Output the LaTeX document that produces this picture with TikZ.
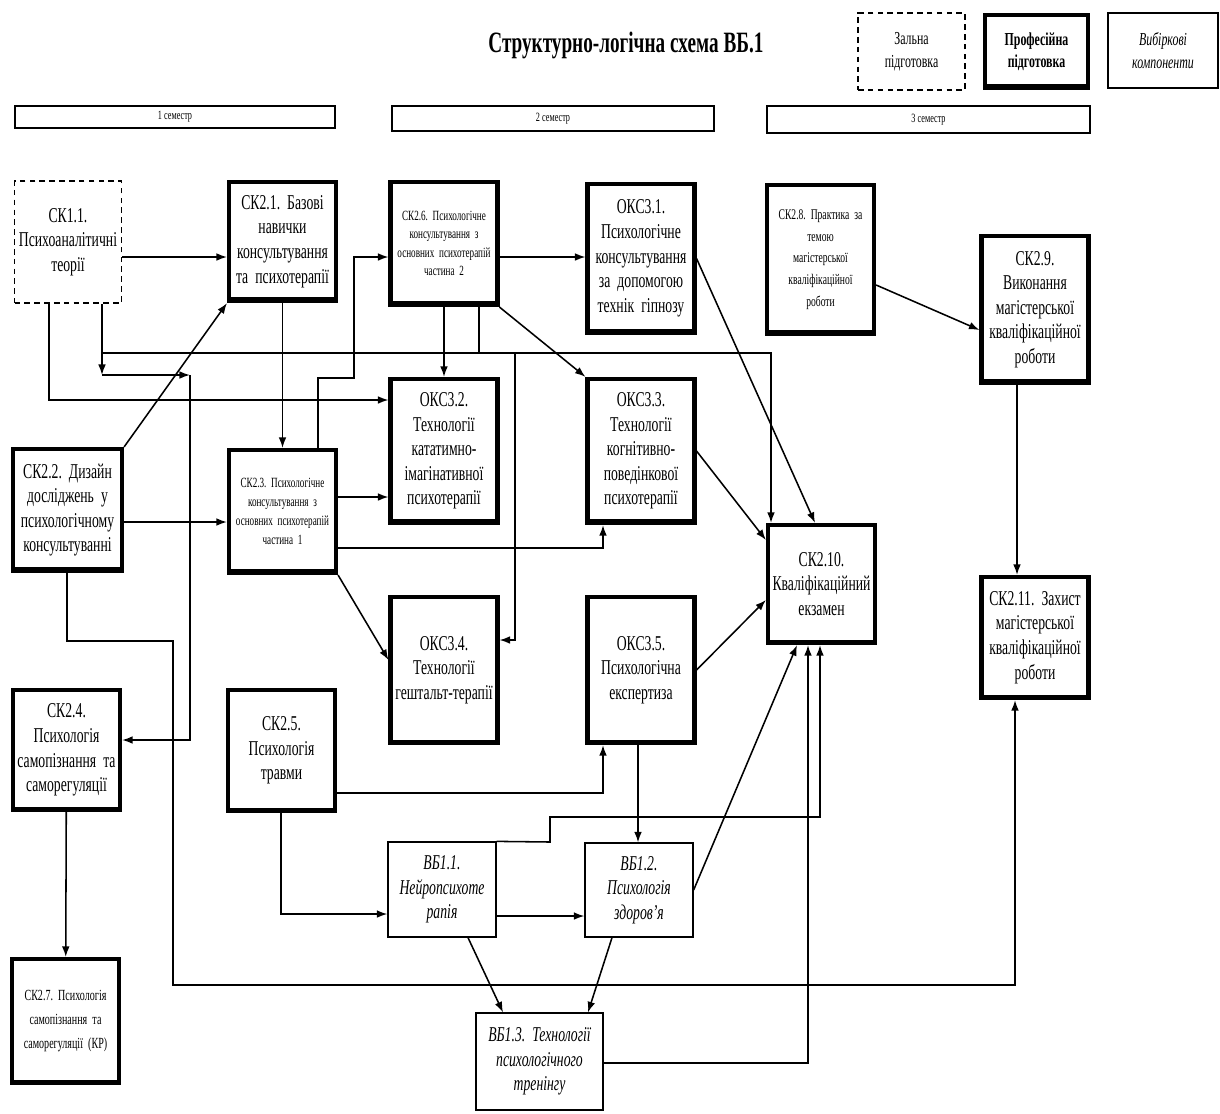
\documentclass[tikz,border=0pt]{standalone}
\usepackage{fontspec}
\setmainfont{Liberation Serif}[FakeStretch=0.65]
\usetikzlibrary{arrows.meta}
\newcommand\boxsize[2]{\fontsize{#1}{#2}\selectfont\frenchspacing\spaceskip=.17em plus .08em minus .04em\relax}

\begin{document}
\begin{tikzpicture}[x=0.025cm,y=-0.025cm,
    >={Latex[length=7.5pt,width=5.5pt]},
    box/.style={draw,align=center,inner sep=1pt,text width=2.6cm,font=\boxsize{15}{17.5}},
    smalltext/.style={font=\boxsize{10}{13}},
    prof/.style={box,line width=3pt,path picture={\fill ([yshift=-2pt]path picture bounding box.south west) rectangle ([yshift=2.5pt]path picture bounding box.south east);}},
    gen/.style={box,line width=1.3pt,dash pattern=on 4pt off 3pt},
    elect/.style={box,line width=0.9pt,font=\boxsize{15}{17.5}\itshape},
    wh/.style 2 args={minimum width=#1*0.025cm,minimum height=#2*0.025cm},
    sem/.style={draw,line width=1pt,inner sep=0pt,font=\boxsize{9}{10}},
    every path/.style={line width=1.1pt}]
    \useasboundingbox (0,0) rectangle (1220,1113);

    \node[font=\boxsize{21}{25}\bfseries] (title) at (626,45) {Структурно-логічна схема ВБ.1};
    \node[gen,wh={107}{77},text width=2.5cm,font=\boxsize{13}{16}] (lgen) at (911.5,51.5) {Зальна\\підготовка};
    \node[prof,wh={103}{73},text width=2.5cm,font=\boxsize{13}{16}\bfseries] (lprof) at (1036.5,51.5) {Професійна\\підготовка};
    \node[elect,wh={110}{75},text width=2.5cm,font=\boxsize{13}{16}\itshape] (lel) at (1163,50.5) {Вибіркові\\компоненти};

    \node[sem,wh={320}{22}] (sem1) at (175,117) {1 семестр};
    \node[sem,wh={322}{25}] (sem2) at (553,118.5) {2 семестр};
    \node[sem,wh={323}{27}] (sem3) at (928.5,119.5) {3 семестр};

    \node[gen,wh={106}{122}] (ck11) at (68,242) {СК1.1.\\Психоаналітичні\\теорії};
    \node[prof,wh={105}{119}] (ck21) at (282.5,241.5) {СК2.1. Базові\\навички\\консультування\\та психотерапії};
    \node[prof,smalltext,wh={106}{123}] (ck26) at (444,243.5) {СК2.6. Психологічне\\консультування з\\основних психотерапій\\частина 2};
    \node[prof,wh={106}{149}] (oks31) at (641,258.5) {ОКС3.1.\\Психологічне\\консультування\\за допомогою\\технік гіпнозу};
    \node[prof,font=\boxsize{10.5}{15.5},wh={107}{149}] (ck28) at (820.5,259.5) {СК2.8. Практика за\\темою\\магістерської\\кваліфікаційної\\роботи};
    \node[prof,wh={106}{147}] (ck29) at (1035,309.5) {СК2.9.\\Виконання\\магістерської\\кваліфікаційної\\роботи};

    \node[prof,wh={106}{144}] (oks32) at (444,451) {ОКС3.2.\\Технології\\кататимно-\\імагінативної\\психотерапії};
    \node[prof,wh={106}{144}] (oks33) at (641,451) {ОКС3.3.\\Технології\\когнітивно-\\поведінкової\\психотерапії};
    \node[prof,wh={109}{122}] (ck22) at (67.5,510) {СК2.2. Дизайн\\досліджень у\\психологічному\\консультуванні};
    \node[prof,font=\boxsize{10}{13.5},wh={107}{123}] (ck23) at (282.5,511.5) {СК2.3. Психологічне\\консультування з\\основних психотерапій\\частина 1};
    \node[prof,wh={107}{118}] (ck210) at (821.5,584) {СК2.10.\\Кваліфікаційний\\екзамен};
    \node[prof,wh={106}{121}] (ck211) at (1035,637.5) {СК2.11. Захист\\магістерської\\кваліфікаційної\\роботи};

    \node[prof,wh={106}{146}] (oks34) at (444,670) {ОКС3.4.\\Технології\\гештальт-терапії};
    \node[prof,wh={106}{146}] (oks35) at (641,670) {ОКС3.5.\\Психологічна\\експертиза};
    \node[prof,wh={107}{120}] (ck24) at (66.5,750) {СК2.4.\\Психологія\\самопізнання та\\саморегуляції};
    \node[prof,wh={107}{121}] (ck25) at (281.5,750.5) {СК2.5.\\Психологія\\травми};

    \node[elect,wh={108}{95}] (vb11) at (442,889.5) {ВБ1.1.\\Нейропсихоте\\рапія};
    \node[elect,wh={108}{94}] (vb12) at (639,890) {ВБ1.2.\\Психологія\\здоров'я};
    \node[elect,wh={127}{97},text width=3.1cm] (vb13) at (539.5,1061.5) {ВБ1.3. Технології\\психологічного\\тренінгу};
    \node[prof,wh={107}{124},font=\boxsize{11}{17}] (ck27) at (65.5,1021) {СК2.7. Психологія\\самопізнання та\\саморегуляції (КР)};

    \coordinate (h257) at (0,257);
    \coordinate (h285) at (0,285);
    \coordinate (h330) at (0,330);
    \coordinate (h497) at (0,497);
    \coordinate (h522) at (0,522);
    \coordinate (h540) at (0,540);
    \coordinate (h600) at (0,600);
    \coordinate (h660) at (0,660);
    \coordinate (h890) at (0,890);
    \coordinate (h916) at (0,916);
    \coordinate (v468) at (468,0);
    \coordinate (v503) at (503,0);
    \coordinate (v588) at (588,0);
    \coordinate (v612) at (612,0);
    \coordinate (v638) at (638,0);
    \coordinate (v797) at (797,0);
    \coordinate (v815) at (815,0);
    \coordinate (v1017) at (1017,0);
    \coordinate (a1) at (49,400);
    \coordinate (a2) at (102,375);
    \coordinate (a3) at (190,375);
    \coordinate (a4) at (190,740);
    \coordinate (bus1) at (102,353);
    \coordinate (bus2) at (479,353);
    \coordinate (bus3) at (515,353);
    \coordinate (bus4) at (771,353);
    \coordinate (bus5) at (515,640);
    \coordinate (c1) at (318,378);
    \coordinate (c2) at (354,378);
    \coordinate (c3) at (354,257);
    \coordinate (d1) at (67,641);
    \coordinate (d2) at (173,641);
    \coordinate (d3) at (173,985);
    \coordinate (d4) at (1015,985);
    \coordinate (f1) at (603,548);
    \coordinate (s1) at (603,793);
    \coordinate (t1) at (281,914);
    \coordinate (u1) at (550,842);
    \coordinate (u2) at (550,817);
    \coordinate (u3) at (820,817);
    \coordinate (w1) at (808,1063);

    \draw[->] (ck11.east |- h257) -- (ck21.west |- h257);
    \draw[->] (ck11.south -| a1) -- (a1) -- (oks32.west |- a1);
    \draw[->] (ck11.south -| a2) -- (a2);
    \draw[->] (a2) -- (a3);
    \draw[->] (a3) -- (a4) -- (ck24.east |- a4);
    \draw[->] (bus1) -- (bus4) -- (ck210.north -| bus4);
    \draw (ck26.south -| bus2) -- (bus2);
    \draw[->] (bus3) -- (bus5) -- (oks34.east |- bus5);
    \draw[->] (ck21) -- (ck23);
    \draw[->] (ck23.north -| c1) -- (c1) -- (c2) -- (c3) -- (ck26.west |- c3);
    \draw[->] (ck22.north east) -- (ck21.south west);
    \draw[->] (ck22.east |- h522) -- (ck23.west |- h522);
    \draw[->] (ck22.south -| d1) -- (d1) -- (d2) -- (d3) -- (d4) -- (ck211.south -| d4);
    \draw[->] (ck23.east |- h497) -- (oks32.west |- h497);
    \draw[->] (ck23.east |- f1) -- (f1) -- (oks33.south -| f1);
    \draw[->] (ck23.south east) -- (oks34.west |- h660);
    \draw[->] (ck26.east |- h257) -- (oks31.west |- h257);
    \draw[->] (ck26) -- (oks32);
    \draw[->] (ck26.south east) -- (oks33.north west);
    \draw[->] (oks31.east) -- (ck210.north -| v815);
    \draw[->] (oks33.east) -- (ck210.west |- h540);
    \draw[->] (oks35.east) -- (ck210.west |- h600);
    \draw[->] (ck28.east |- h285) -- (ck29.west |- h330);
    \draw[->] (ck29.south -| v1017) -- (ck211.north -| v1017);
    \draw[->] (ck24) -- (ck27);
    \draw[->] (ck25.east |- s1) -- (s1) -- (oks35.south -| s1);
    \draw[->] (ck25.south -| t1) -- (t1) -- (vb11.west |- t1);
    \draw[->] (vb11.east |- h916) -- (vb12.west |- h916);
    \draw[->] (vb11.north east) -- (u1) -- (u2) -- (u3) -- (ck210.south -| u3);
    \draw[->] (vb11.south -| v468) -- (vb13.north -| v503);
    \draw[->] (vb12.south -| v612) -- (vb13.north -| v588);
    \draw[->] (vb12.east |- h890) -- (ck210.south -| v797);
    \draw[->] (oks35.south -| v638) -- (vb12.north -| v638);
    \draw[->] (vb13.east |- w1) -- (w1) -- (ck210.south -| w1);
\end{tikzpicture}
\end{document}
